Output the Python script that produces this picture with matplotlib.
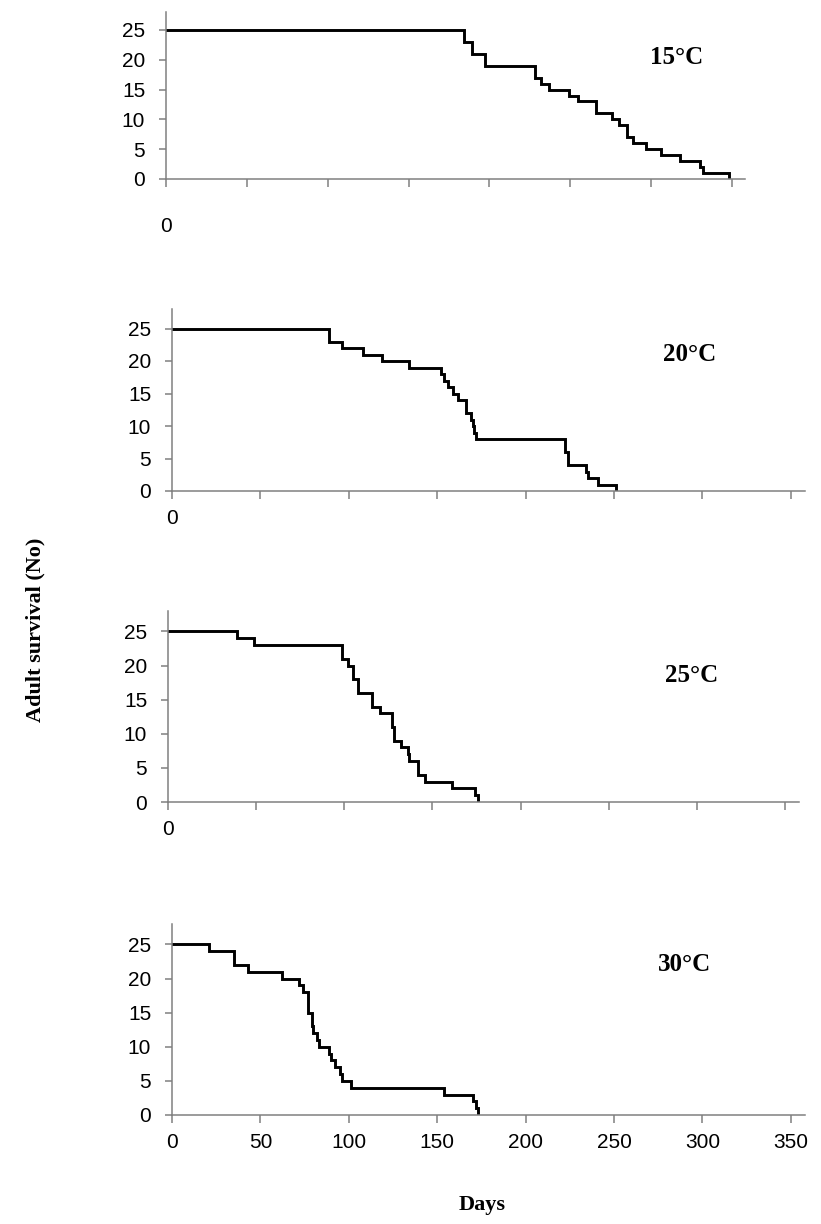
import matplotlib
matplotlib.use('Agg')
import matplotlib.pyplot as plt

# survival data: day on which the count changes, and the number still alive
days_15 = [0, 184, 189, 197, 228, 232, 237, 249, 255, 266, 276, 280, 285, 289, 297, 306, 318, 330, 332, 348]
alive_15 = [25, 23, 21, 19, 17, 16, 15, 14, 13, 11, 10, 9, 7, 6, 5, 4, 3, 2, 1, 0]

days_20 = [0, 89, 96, 108, 119, 134, 152, 154, 156, 159, 162, 166, 169, 170, 171, 172, 222, 224, 234, 235, 241, 251]
alive_20 = [25, 23, 22, 21, 20, 19, 18, 17, 16, 15, 14, 12, 11, 10, 9, 8, 6, 4, 3, 2, 1, 0]

days_25 = [0, 39, 49, 99, 102, 105, 108, 116, 120, 127, 128, 132, 136, 137, 142, 146, 161, 174, 176]
alive_25 = [25, 24, 23, 21, 20, 18, 16, 14, 13, 11, 9, 8, 7, 6, 4, 3, 2, 1, 0]

days_30 = [0, 21, 35, 43, 62, 72, 74, 77, 79, 80, 82, 83, 89, 90, 92, 95, 96, 101, 154, 170, 172, 173]
alive_30 = [25, 24, 22, 21, 20, 19, 18, 15, 13, 12, 11, 10, 9, 8, 7, 6, 5, 4, 3, 2, 1, 0]

labels = ['15°C', '20°C', '25°C', '30°C']
x_ticks = [0, 50, 100, 150, 200, 250, 300, 350]
y_ticks = [0, 5, 10, 15, 20, 25]

W, H = 821, 1224
fig = plt.figure(figsize=(W / 100, H / 100), dpi=100)

# panel boxes in pixels: left, right, top, bottom
boxes = [(166, 745, 12, 179),
         (172, 805, 309, 491),
         (168, 799, 611, 802),
         (172, 805, 924, 1115)]
# label positions in data units (day, count)
label_pos = [(316, 20.3), (293, 21.0), (297, 18.6), (290, 22.0)]
series = [(days_15, alive_15), (days_20, alive_20), (days_25, alive_25), (days_30, alive_30)]

for i, ((l, r, t, b), (d, a)) in enumerate(zip(boxes, series)):
    ax = fig.add_axes([l / W, 1 - b / H, (r - l) / W, (b - t) / H])
    ax.step(d, a, where='post', color='black', lw=2.1, solid_joinstyle='miter')
    ax.set_xlim(0, 358)
    ax.set_ylim(0, 28)
    for s in ['top', 'right']:
        ax.spines[s].set_visible(False)
    for s in ['left', 'bottom']:
        ax.spines[s].set_color('#808080')
        ax.spines[s].set_linewidth(1.1)
    ax.set_yticks(y_ticks)
    ax.set_xticks(x_ticks)
    if i == 3:
        ax.set_xticklabels([str(v) for v in x_ticks])
    else:
        ax.set_xticklabels(['0'] + [''] * (len(x_ticks) - 1))
    ax.tick_params(axis='both', direction='out', color='#808080', width=1.1,
                   labelsize=15, labelcolor='black')
    ax.tick_params(axis='y', length=5, pad=10)
    ax.tick_params(axis='x', length=6, pad=7 if i > 0 else 21)
    for lab in ax.get_xticklabels() + ax.get_yticklabels():
        lab.set_fontfamily('Liberation Sans')
    ax.text(label_pos[i][0], label_pos[i][1], labels[i], ha='center', va='center',
            fontsize=18, fontweight='bold', family='Liberation Serif')

fig.text(35 / W, 1 - 630 / H, 'Adult survival (No)', rotation=90, ha='center', va='center',
         fontsize=16, fontweight='bold', family='Liberation Serif')
fig.text(482 / W, 1 - 1205 / H, 'Days', ha='center', va='center',
         fontsize=16, fontweight='bold', family='Liberation Serif')

fig.savefig('out.png', dpi=100)
